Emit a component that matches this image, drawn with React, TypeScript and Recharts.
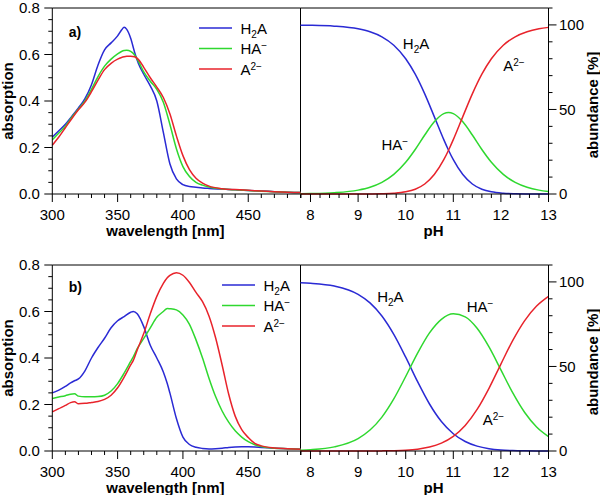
import React from 'react';
import { LineChart, Line, XAxis, YAxis, ReferenceLine, ReferenceDot, Legend } from 'recharts';

const FONT = '"Liberation Sans", Arial, Helvetica, sans-serif';
const BLUE = '#2a2ad4';
const GREEN = '#2fd82f';
const RED = '#e8232b';

// ---- panel a) absorption spectra ----
const wlTop = [300, 305, 310, 315, 320, 325, 330, 335, 340, 345, 350, 353, 355, 357, 360, 363, 366, 370, 375, 380, 385, 390, 395, 400, 405, 410, 415, 420, 430, 440, 450, 460, 470, 480, 490];
const h2aTop = [0.245, 0.272, 0.300, 0.335, 0.370, 0.410, 0.470, 0.555, 0.620, 0.650, 0.680, 0.705, 0.717, 0.708, 0.670, 0.610, 0.560, 0.515, 0.465, 0.400, 0.265, 0.130, 0.065, 0.040, 0.032, 0.029, 0.026, 0.024, 0.021, 0.018, 0.015, 0.013, 0.010, 0.008, 0.006];
const haTop = [0.233, 0.262, 0.292, 0.330, 0.365, 0.400, 0.450, 0.505, 0.550, 0.580, 0.603, 0.613, 0.617, 0.618, 0.613, 0.598, 0.570, 0.525, 0.485, 0.450, 0.395, 0.300, 0.195, 0.118, 0.075, 0.050, 0.038, 0.030, 0.022, 0.018, 0.015, 0.012, 0.010, 0.008, 0.006];
const a2Top = [0.210, 0.245, 0.285, 0.325, 0.362, 0.395, 0.440, 0.490, 0.535, 0.562, 0.580, 0.587, 0.590, 0.592, 0.593, 0.590, 0.578, 0.545, 0.500, 0.460, 0.415, 0.345, 0.250, 0.165, 0.105, 0.068, 0.047, 0.034, 0.023, 0.019, 0.016, 0.013, 0.010, 0.008, 0.006];

// ---- panel a) speciation ----
const phTop = [7.79, 8.0, 8.5, 9.0, 9.25, 9.5, 9.75, 10.0, 10.2, 10.4, 10.6, 10.8, 10.9, 11.0, 11.2, 11.4, 11.6, 11.8, 12.05, 12.3, 12.55, 12.8, 13.0];
const h2aPhTop = [99.85, 99.77, 99.26, 97.7, 95.95, 92.96, 87.97, 79.99, 70.86, 59.21, 45.78, 32.15, 25.9, 20.29, 11.5, 5.92, 2.82, 1.27, 0.44, 0.15, 0.05, 0.02, 0.01];
const haPhTop = [0.15, 0.23, 0.74, 2.29, 4.0, 6.89, 11.59, 18.75, 26.32, 34.87, 42.72, 47.56, 48.2, 47.56, 42.72, 34.87, 26.32, 18.75, 11.59, 6.89, 4.0, 2.29, 1.46];
const a2PhTop = [0, 0, 0, 0.01, 0.05, 0.15, 0.44, 1.27, 2.82, 5.92, 11.5, 20.29, 25.9, 32.15, 45.78, 59.21, 70.86, 79.99, 87.97, 92.96, 95.95, 97.7, 98.54];

// ---- panel b) absorption spectra ----
const wlBot = [300, 305, 310, 314, 317, 320, 325, 330, 335, 340, 345, 350, 355, 360, 362, 365, 370, 375, 380, 385, 388, 390, 395, 400, 405, 410, 415, 420, 425, 430, 435, 440, 445, 450, 455, 460, 470, 480, 490];
const h2aBot = [0.250, 0.262, 0.278, 0.293, 0.302, 0.310, 0.345, 0.400, 0.445, 0.485, 0.530, 0.560, 0.578, 0.597, 0.600, 0.590, 0.535, 0.455, 0.400, 0.340, 0.290, 0.250, 0.140, 0.060, 0.028, 0.016, 0.011, 0.009, 0.010, 0.012, 0.015, 0.017, 0.018, 0.018, 0.017, 0.015, 0.012, 0.010, 0.008];
const haBot = [0.226, 0.232, 0.238, 0.244, 0.246, 0.236, 0.233, 0.233, 0.234, 0.240, 0.258, 0.290, 0.335, 0.385, 0.405, 0.440, 0.484, 0.530, 0.575, 0.600, 0.613, 0.612, 0.607, 0.585, 0.545, 0.478, 0.400, 0.312, 0.234, 0.172, 0.124, 0.087, 0.060, 0.040, 0.027, 0.019, 0.012, 0.010, 0.008];
const a2Bot = [0.168, 0.182, 0.196, 0.208, 0.212, 0.203, 0.205, 0.209, 0.213, 0.222, 0.240, 0.272, 0.318, 0.370, 0.390, 0.435, 0.505, 0.590, 0.665, 0.721, 0.745, 0.755, 0.767, 0.756, 0.725, 0.682, 0.642, 0.580, 0.487, 0.370, 0.245, 0.150, 0.092, 0.058, 0.033, 0.022, 0.013, 0.010, 0.007];

// ---- panel b) speciation ----
const phBot = [7.79, 8.0, 8.5, 9.0, 9.25, 9.5, 9.75, 10.0, 10.25, 10.5, 10.75, 11.0, 11.25, 11.5, 11.75, 12.0, 12.25, 12.5, 12.75, 13.0];
const h2aPhBot = [99.5, 99.21, 97.55, 92.64, 87.6, 79.87, 68.99, 55.47, 40.99, 27.8, 17.43, 10.21, 5.61, 2.89, 1.38, 0.6, 0.24, 0.09, 0.03, 0.01];
const haPhBot = [0.5, 0.79, 2.45, 7.36, 12.38, 20.06, 30.82, 44.06, 57.9, 69.83, 77.88, 81.1, 79.28, 72.54, 61.54, 47.98, 34.34, 22.77, 14.23, 8.53];
const a2PhBot = [0, 0, 0, 0.01, 0.02, 0.07, 0.19, 0.47, 1.1, 2.37, 4.69, 8.69, 15.1, 24.58, 37.08, 51.41, 65.42, 77.14, 85.74, 91.46];

// ---- ticks ----
const wlTicks = [300, 310, 320, 330, 340, 350, 360, 370, 380, 390, 400, 410, 420, 430, 440, 450, 460, 470, 480, 490];
const wlMajor = [300, 350, 400, 450];
const phTicks = [7.8, 8, 8.2, 8.4, 8.6, 8.8, 9, 9.2, 9.4, 9.6, 9.8, 10, 10.2, 10.4, 10.6, 10.8, 11, 11.2, 11.4, 11.6, 11.8, 12, 12.2, 12.4, 12.6, 12.8, 13];
const phMajor = [8, 9, 10, 11, 12, 13];
const absTicks = [0, 0.05, 0.1, 0.15, 0.2, 0.25, 0.3, 0.35, 0.4, 0.45, 0.5, 0.55, 0.6, 0.65, 0.7, 0.75, 0.8];
const absMajor = [0, 0.2, 0.4, 0.6, 0.8];
const abTicks = [0, 10, 20, 30, 40, 50, 60, 70, 80, 90, 100, 110];
const abMajor = [0, 50, 100];

const speciesOrder = ['H2A', 'HA-', 'A2-'];

const topAnnot = [
  { id: 'H2A', ph: 9.94, ab: 86 },
  { id: 'HA-', ph: 9.49, ab: 26 },
  { id: 'A2-', ph: 12.05, ab: 72.5 },
];
const botAnnot = [
  { id: 'H2A', ph: 9.4, ab: 88 },
  { id: 'HA-', ph: 11.28, ab: 82 },
  { id: 'A2-', ph: 11.62, ab: 15.6 },
];

const specRows = (wl: number[], a: number[], b: number[], c: number[]) =>
  wl.map((w, i) => ({ x: w, H2A: a[i], HA: b[i], A2: c[i] }));

const topSpec = specRows(wlTop, h2aTop, haTop, a2Top);
const topPh = specRows(phTop, h2aPhTop, haPhTop, a2PhTop);
const botSpec = specRows(wlBot, h2aBot, haBot, a2Bot);
const botPh = specRows(phBot, h2aPhBot, haPhBot, a2PhBot);

function Species({ id }: { id: string }) {
  if (id === 'H2A')
    return (
      <>
        H<tspan fontSize={10} dy={4}>2</tspan>
        <tspan dy={-4}>A</tspan>
      </>
    );
  if (id === 'HA-')
    return (
      <>
        HA<tspan fontSize={10} dy={-5}>−</tspan>
      </>
    );
  return (
    <>
      A<tspan fontSize={10} dy={-5}>2−</tspan>
    </>
  );
}

const txt = { fontFamily: FONT, fill: '#000' };

const xTick = (majors: number[]) => (p: any) => {
  const v = p.payload.value;
  const major = majors.includes(v);
  return (
    <g>
      <line x1={p.x} x2={p.x} y1={p.y} y2={p.y + (major ? 8 : 4)} stroke="#000" strokeWidth={1} />
      {major && (
        <text x={p.x} y={p.y + 25.5} textAnchor="middle" fontSize={15} {...txt}>
          {v}
        </text>
      )}
    </g>
  );
};

const yTickLeft = (majors: number[]) => (p: any) => {
  const v = p.payload.value;
  const major = majors.includes(v);
  return (
    <g>
      <line x1={p.x - (major ? 8 : 4)} x2={p.x} y1={p.y} y2={p.y} stroke="#000" strokeWidth={1} />
      {major && (
        <text x={p.x - 12.5} y={p.y + 5.3} textAnchor="end" fontSize={15} {...txt}>
          {v.toFixed(1)}
        </text>
      )}
    </g>
  );
};

const yTickRight = (majors: number[]) => (p: any) => {
  const v = p.payload.value;
  const major = majors.includes(v);
  return (
    <g>
      <line x1={p.x} x2={p.x + (major ? 8 : 4)} y1={p.y} y2={p.y} stroke="#000" strokeWidth={1} />
      {major && (
        <text x={p.x + 10.5} y={p.y + 5.3} textAnchor="start" fontSize={15} {...txt}>
          {v}
        </text>
      )}
    </g>
  );
};

const xLabel = (text: string, dx: number) => (p: any) => {
  const vb = p.viewBox;
  if (!vb) return null;
  return (
    <text x={vb.x + vb.width / 2 + dx} y={vb.y + 42} textAnchor="middle" fontSize={15} fontWeight="bold" {...txt}>
      {text}
    </text>
  );
};

const yLabel = (text: string, side: 'left' | 'right', dy: number) => (p: any) => {
  const vb = p.viewBox;
  if (!vb) return null;
  const cx = side === 'left' ? 13 : 598;
  const cy = vb.y + vb.height / 2 + dy;
  return (
    <text x={cx} y={cy} transform={`rotate(-90 ${cx} ${cy})`} textAnchor="middle" fontSize={15} fontWeight="bold" {...txt}>
      {text}
    </text>
  );
};

const legendContent = (p: any) => {
  const payload = [...(p.payload || [])].sort(
    (a: any, b: any) => speciesOrder.indexOf(a.value) - speciesOrder.indexOf(b.value)
  );
  return (
    <svg width={80} height={62} style={{ display: 'block', overflow: 'visible' }}>
      {payload.map((e: any, i: number) => (
        <g key={i}>
          <line x1={0} x2={33} y1={10 + i * 20.5} y2={10 + i * 20.5} stroke={e.color} strokeWidth={1.5} />
          <text x={41.5} y={15.7 + i * 20.5} fontSize={15} {...txt}>
            <Species id={e.value} />
          </text>
        </g>
      ))}
    </svg>
  );
};

const annotShape = (id: string) => (p: any) => (
  <text x={p.cx} y={p.cy} fontSize={15} {...txt}>
    <Species id={id} />
  </text>
);

const panelShape = (label: string) => (p: any) => (
  <text x={p.cx} y={p.cy} fontSize={14} fontWeight="bold" {...txt}>
    {label}
  </text>
);

const series = () => [
  <Line key="a" type="monotone" dataKey="H2A" name="H2A" stroke={BLUE} strokeWidth={1.5} dot={false} isAnimationActive={false} />,
  <Line key="b" type="monotone" dataKey="HA" name="HA-" stroke={GREEN} strokeWidth={1.5} dot={false} isAnimationActive={false} />,
  <Line key="c" type="monotone" dataKey="A2" name="A2-" stroke={RED} strokeWidth={1.5} dot={false} isAnimationActive={false} />,
];

const W = 600;
const H = 495;

function SpecChart({ data, top, bottom, panel, panelY, legendPos }: any) {
  return (
    <div style={{ position: 'absolute', left: 0, top: 0 }}>
      <LineChart width={W} height={H} data={data} margin={{ top, right: 299.5, bottom, left: 0 }}>
        <XAxis
          dataKey="x"
          type="number"
          domain={[300, 490]}
          ticks={wlTicks}
          interval={0}
          height={30}
          tickSize={0}
          tickMargin={0}
          tickLine={false}
          axisLine={{ stroke: '#000' }}
          tick={xTick(wlMajor)}
          label={xLabel('wavelength [nm]', -11)}
        />
        <YAxis
          type="number"
          domain={[0, 0.8]}
          ticks={absTicks}
          interval={0}
          width={52.3}
          tickSize={0}
          tickMargin={0}
          tickLine={false}
          axisLine={{ stroke: '#000' }}
          tick={yTickLeft(absMajor)}
          label={yLabel('absorption', 'left', 0)}
        />
        <ReferenceLine y={0.8} stroke="#000" ifOverflow="visible" />
        <ReferenceLine x={490} stroke="#000" ifOverflow="visible" />
        {series()}
        <ReferenceDot x={312.5} y={panelY} r={1} fill="none" stroke="none" shape={panelShape(panel)} />
        <Legend
          layout="vertical"
          verticalAlign="middle"
          align="center"
          content={legendContent}
          wrapperStyle={{ left: legendPos[0], top: legendPos[1], width: 80, height: 62 }}
        />
      </LineChart>
    </div>
  );
}

function PhChart({ data, top, bottom, annots }: any) {
  return (
    <div style={{ position: 'absolute', left: 0, top: 0 }}>
      <LineChart width={W} height={H} data={data} margin={{ top, right: 0, bottom, left: 300.5 }}>
        <XAxis
          dataKey="x"
          type="number"
          domain={[7.79, 13]}
          ticks={phTicks}
          interval={0}
          height={30}
          tickSize={0}
          tickMargin={0}
          tickLine={false}
          axisLine={{ stroke: '#000' }}
          tick={xTick(phMajor)}
          label={xLabel('pH', 9)}
        />
        <YAxis
          orientation="right"
          type="number"
          domain={[0, 110]}
          ticks={abTicks}
          interval={0}
          width={51.5}
          tickSize={0}
          tickMargin={0}
          tickLine={false}
          axisLine={{ stroke: '#000' }}
          tick={yTickRight(abMajor)}
          label={yLabel('abundance [%]', 'right', 4)}
        />
        <ReferenceLine y={110} stroke="#000" ifOverflow="visible" />
        {series()}
        {annots.map((a: any) => (
          <ReferenceDot key={a.id} x={a.ph} y={a.ab} r={1} fill="none" stroke="none" shape={annotShape(a.id)} />
        ))}
      </LineChart>
    </div>
  );
}

export default function App() {
  return (
    <div style={{ position: 'absolute', left: 0, top: 0, width: W, height: H, background: '#fff', fontFamily: FONT }}>
      <SpecChart data={topSpec} top={8} bottom={271} panel="a)" panelY={0.675} legendPos={[199, 18.3]} />
      <PhChart data={topPh} top={8} bottom={271} annots={topAnnot} />
      <SpecChart data={botSpec} top={265} bottom={14} panel="b)" panelY={0.684} legendPos={[221.7, 275]} />
      <PhChart data={botPh} top={265} bottom={14} annots={botAnnot} />
    </div>
  );
}
